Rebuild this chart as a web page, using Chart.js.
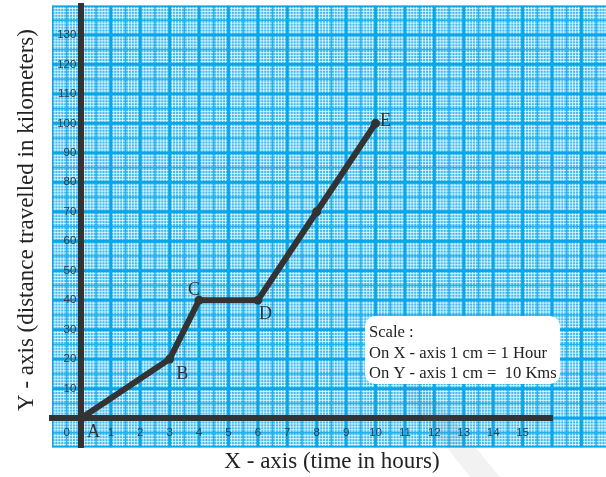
<!DOCTYPE html>
<html>
<head>
<meta charset="utf-8">
<script src="https://cdn.jsdelivr.net/npm/chart.js@4.4.0/dist/chart.umd.min.js"></script>
<style>
html,body{margin:0;padding:0;background:#ffffff;}
#wrap{width:606px;height:477px;position:relative;}
</style>
</head>
<body>
<div id="wrap"><canvas id="c"></canvas></div>
<script>
// ---- data ----
const pointNames = ['A', 'B', 'C', 'D', '', 'E'];
const timeHours = [0, 3, 4, 6, 8, 10];
const distanceKm = [0, 20, 40, 40, 70, 100];
const xTickValues = [-0.5, 1, 2, 3, 4, 5, 6, 7, 8, 9, 10, 11, 12, 13, 14, 15];
const xTickLabels = ['0', '1', '2', '3', '4', '5', '6', '7', '8', '9', '10', '11', '12', '13', '14', '15'];
const yTickValues = [10, 20, 30, 40, 50, 60, 70, 80, 90, 100, 110, 120, 130];
const yTickLabels = ['10', '20', '30', '40', '50', '60', '70', '80', '90', '100', '110', '120', '130'];
const scaleNote = ['Scale :', 'On X - axis 1 cm = 1 Hour', 'On Y - axis 1 cm =  10 Kms'];
const xTitle = 'X - axis (time in hours)';
const yTitle = 'Y - axis (distance travelled in kilometers)';

// ---- styles ----
const INK = '#333333';
const SERIF = '"Liberation Serif", "Times New Roman", serif';
const TICK_FONT = {family: '"Liberation Sans", Arial, sans-serif', size: 11.5};
const TICK_COLOR = '#333b42';
const labelOffsets = [[5.5, 19], [6.5, 20], [-11, -5], [1, 19], [0, 0], [4.5, 3]];

const paperPlugin = {
  id: 'paper',
  beforeDraw(chart) {
    const {ctx, chartArea: a, scales: {x, y}} = chart;
    const L = a.left, T = a.top, B = a.bottom, R = chart.width;
    ctx.save();
    ctx.beginPath(); ctx.rect(L, T, R - L, B - T); ctx.clip();
    ctx.fillStyle = '#3cbbef';
    ctx.fillRect(L, T, R - L, B - T);
    const xEnd = x.getValueForPixel(R);
    const drawV = (v, color, w) => {
      const p = x.getPixelForValue(v);
      ctx.strokeStyle = color; ctx.lineWidth = w;
      ctx.beginPath(); ctx.moveTo(p, T); ctx.lineTo(p, B); ctx.stroke();
    };
    const drawH = (v, color, w) => {
      const p = y.getPixelForValue(v);
      ctx.strokeStyle = color; ctx.lineWidth = w;
      ctx.beginPath(); ctx.moveTo(L, p); ctx.lineTo(R, p); ctx.stroke();
    };
    // white millimetre lines
    for (let i = Math.ceil(x.min * 10); i <= xEnd * 10; i++) {
      if (i % 5 !== 0) drawV(i / 10, 'rgba(255,255,255,0.72)', 1);
    }
    for (let i = Math.ceil(y.min); i <= y.max; i++) {
      if (i % 5 !== 0) drawH(i, 'rgba(255,255,255,0.72)', 1);
    }
    // half-cm lines
    for (let i = Math.ceil(x.min * 2); i <= xEnd * 2; i++) {
      if (i % 2 !== 0) drawV(i / 2, '#25b1ea', 1.3);
    }
    for (let i = Math.ceil(y.min / 5); i <= y.max / 5; i++) {
      if (i % 2 !== 0) drawH(i * 5, '#25b1ea', 1.3);
    }
    // cm lines
    for (let i = Math.ceil(x.min); i <= xEnd; i++) drawV(i, '#0aa6e7', 2.8);
    for (let i = Math.ceil(y.min / 10); i <= y.max / 10; i++) drawH(i * 10, '#0aa6e7', 2.8);
    ctx.restore();
  }
};

const annotatePlugin = {
  id: 'annotate',
  afterDatasetsDraw(chart) {
    const {ctx} = chart;
    const meta = chart.getDatasetMeta(0);
    ctx.save();
    ctx.fillStyle = INK;
    ctx.font = '18px ' + SERIF;
    ctx.textAlign = 'left';
    ctx.textBaseline = 'alphabetic';
    meta.data.forEach((pt, i) => {
      if (!pointNames[i]) return;
      ctx.fillText(pointNames[i], pt.x + labelOffsets[i][0], pt.y + labelOffsets[i][1]);
    });
    ctx.restore();
  },
  afterDraw(chart) {
    const {ctx} = chart;
    ctx.save();
    // faint watermark band
    ctx.fillStyle = 'rgba(110,110,110,0.09)';
    ctx.beginPath();
    ctx.moveTo(392, 378); ctx.lineTo(418, 378); ctx.lineTo(500, 477); ctx.lineTo(470, 477);
    ctx.closePath(); ctx.fill();
    // scale note box
    ctx.fillStyle = '#ffffff';
    ctx.beginPath();
    ctx.roundRect(365, 316, 195, 68, 10);
    ctx.fill();
    ctx.fillStyle = '#222222';
    ctx.font = '16.6px ' + SERIF;
    ctx.textAlign = 'left';
    ctx.textBaseline = 'alphabetic';
    scaleNote.forEach((t, i) => ctx.fillText(t, 369, 337 + i * 20.5));
    // axis titles
    ctx.font = '23px ' + SERIF;
    ctx.textAlign = 'center';
    ctx.fillText(xTitle, 332, 468);
    ctx.translate(33, 220);
    ctx.rotate(-Math.PI / 2);
    ctx.fillText(yTitle, 0, 0);
    ctx.restore();
  }
};

const resetPad = (s) => { s.paddingLeft = 0; s.paddingRight = 0; s.paddingTop = 0; s.paddingBottom = 0; };

new Chart(document.getElementById('c'), {
  type: 'line',
  data: {
    datasets: [{
      data: timeHours.map((t, i) => ({x: t, y: distanceKm[i]})),
      borderColor: INK,
      backgroundColor: INK,
      borderWidth: 6,
      borderCapStyle: 'round',
      borderJoinStyle: 'round',
      pointRadius: 4.5,
      pointBorderWidth: 0,
      pointBackgroundColor: INK,
      tension: 0,
      clip: false,
      yAxisID: 'y'
    }]
  },
  options: {
    responsive: true,
    maintainAspectRatio: false,
    animation: false,
    devicePixelRatio: 1,
    layout: {padding: {left: 52, top: 5.5, right: 54, bottom: 29.5}},
    plugins: {legend: {display: false}, tooltip: {enabled: false}, title: {display: false}},
    scales: {
      x: {
        type: 'linear',
        min: -1, max: 16,
        position: {y: 0},
        grid: {display: false, drawTicks: false},
        border: {display: true, color: INK, width: 6},
        afterBuildTicks: (s) => { s.ticks = xTickValues.map(v => ({value: v})); },
        afterFit: resetPad,
        ticks: {
          autoSkip: false, maxRotation: 0, minRotation: 0,
          padding: 8,
          color: TICK_COLOR,
          font: TICK_FONT,
          callback: (v, i) => xTickLabels[i]
        }
      },
      y: {
        type: 'linear',
        min: -10, max: 140,
        position: {x: 0},
        grid: {display: false, drawTicks: false},
        border: {display: true, color: INK, width: 6},
        afterFit: resetPad,
        ticks: {display: false}
      },
      yLabels: {
        type: 'linear',
        min: -10, max: 140,
        position: {x: -0.17},
        grid: {display: false, drawTicks: false},
        border: {display: false},
        afterBuildTicks: (s) => { s.ticks = yTickValues.map(v => ({value: v})); },
        afterFit: resetPad,
        ticks: {
          autoSkip: false,
          padding: 0,
          color: TICK_COLOR,
          font: TICK_FONT,
          callback: (v, i) => yTickLabels[i]
        }
      }
    }
  },
  plugins: [paperPlugin, annotatePlugin]
});
</script>
</body>
</html>
